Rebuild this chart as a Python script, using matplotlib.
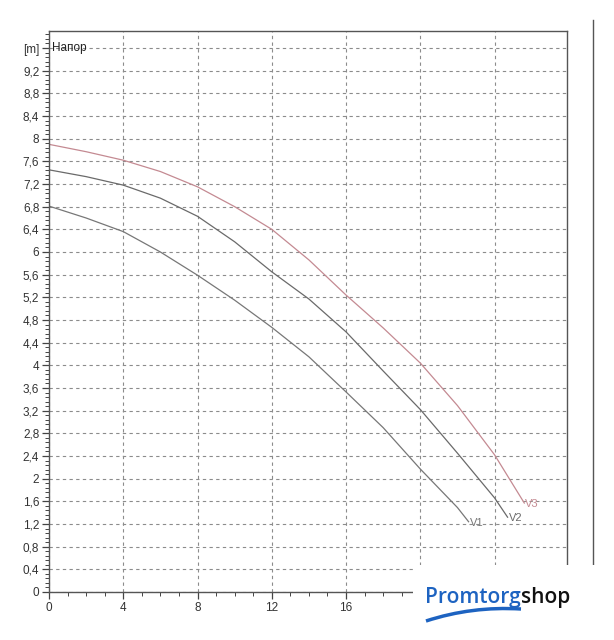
import numpy as np
import matplotlib
matplotlib.use("Agg")
from matplotlib import pyplot as plt
from matplotlib.ticker import MultipleLocator, FixedLocator
from matplotlib.patches import Rectangle, PathPatch
from matplotlib.path import Path
from matplotlib.lines import Line2D

plt.rcParams['font.family'] = ['Liberation Sans', 'DejaVu Sans']

# flow [m3/h] vs head [m]
q_v1 = [0, 2, 4, 6, 8, 10, 12, 14, 16, 18, 20, 22, 22.6]
h_v1 = [6.81, 6.60, 6.36, 6.00, 5.59, 5.15, 4.67, 4.15, 3.53, 2.90, 2.17, 1.49, 1.24]
q_v2 = [0, 2, 4, 6, 8, 10, 12, 14, 16, 18, 20, 22, 24, 24.7]
h_v2 = [7.45, 7.33, 7.18, 6.95, 6.63, 6.18, 5.65, 5.17, 4.59, 3.90, 3.22, 2.45, 1.66, 1.32]
q_v3 = [0, 2, 4, 6, 8, 10, 12, 14, 16, 18, 20, 22, 24, 25.6]
h_v3 = [7.90, 7.77, 7.62, 7.42, 7.15, 6.80, 6.40, 5.86, 5.24, 4.66, 4.04, 3.29, 2.42, 1.57]

curves = [('V1', q_v1, h_v1, '#777777'),
          ('V2', q_v2, h_v2, '#6a6a6a'),
          ('V3', q_v3, h_v3, '#c48a92')]

# x labels past 16 sit under the logo box in the original
xticks = [0, 4, 8, 12, 16, 20, 24]
xlabels = ['0', '4', '8', '12', '16', '', '']
yticks = np.round(np.arange(0, 9.61, 0.4), 1)
ylabels = [f"{v:g}".replace('.', ',') for v in yticks]
ylabels[-1] = '[m]'

fig = plt.figure(figsize=(6.14, 6.40), dpi=100)
ax = fig.add_axes([49/614, 1 - 592/640, (567-49)/614, (592-31)/640])

for name, q, h, col in curves:
    ax.plot(q, h, color=col, lw=0.9)
    ax.text(q[-1] + 0.05, h[-1] - 0.02, name, color=col, fontsize=8,
            ha='left', va='center')

ax.set_xlim(0, 27.9)
ax.set_ylim(0, 9.9)
ax.xaxis.set_major_locator(FixedLocator(xticks))
ax.xaxis.set_minor_locator(MultipleLocator(1))
ax.set_xticklabels(xlabels)
ax.yaxis.set_major_locator(FixedLocator(yticks))
ax.yaxis.set_minor_locator(MultipleLocator(0.08))
ax.set_yticklabels(ylabels)

ax.grid(True, which='major', ls=(0, (3, 3)), color='#8c8c8c', lw=0.8)
ax.tick_params(which='major', length=5, width=0.9, color='#444444',
               labelsize=8.5, labelcolor='#333333', pad=2)
ax.tick_params(which='minor', length=3, width=0.7, color='#444444')
for s in ax.spines.values():
    s.set_color('#555555')
    s.set_linewidth(1.0)

ax.text(0.15, 9.6, 'Напор', fontsize=8.5, color='#222222', ha='left', va='center')

# divider line on the right
fig.add_artist(Line2D([593/614, 593/614], [1 - 565/640, 1 - 20/640],
                      color='#555555', lw=1.0))

# logo box covering the lower right corner
fig.add_artist(Rectangle((413/614, 0), 1, (640-565)/640, transform=fig.transFigure,
                         facecolor='white', edgecolor='none', zorder=10))
t1 = fig.text(425/614, 1 - 603/640, 'Promtorg', color='#1d63c1', fontsize=15,
              fontweight='semibold', family='Open Sans', ha='left', va='baseline', zorder=11)
fig.canvas.draw()
bb = t1.get_window_extent(fig.canvas.get_renderer())
fig.text(bb.x1 / 614 + 0.5/614, 1 - 603/640, 'shop', color='#111111', fontsize=15,
         fontweight='semibold', family='Open Sans', ha='left', va='baseline', zorder=11)
swoosh = Path([(426/614, 1 - 621/640), (472/614, 1 - 606/640), (521/614, 1 - 609/640)],
              [Path.MOVETO, Path.CURVE3, Path.CURVE3])
fig.add_artist(PathPatch(swoosh, transform=fig.transFigure, fill=False,
                         edgecolor='#1d63c1', lw=2.5, zorder=11))

fig.savefig('out.png', dpi=100, facecolor='white')
